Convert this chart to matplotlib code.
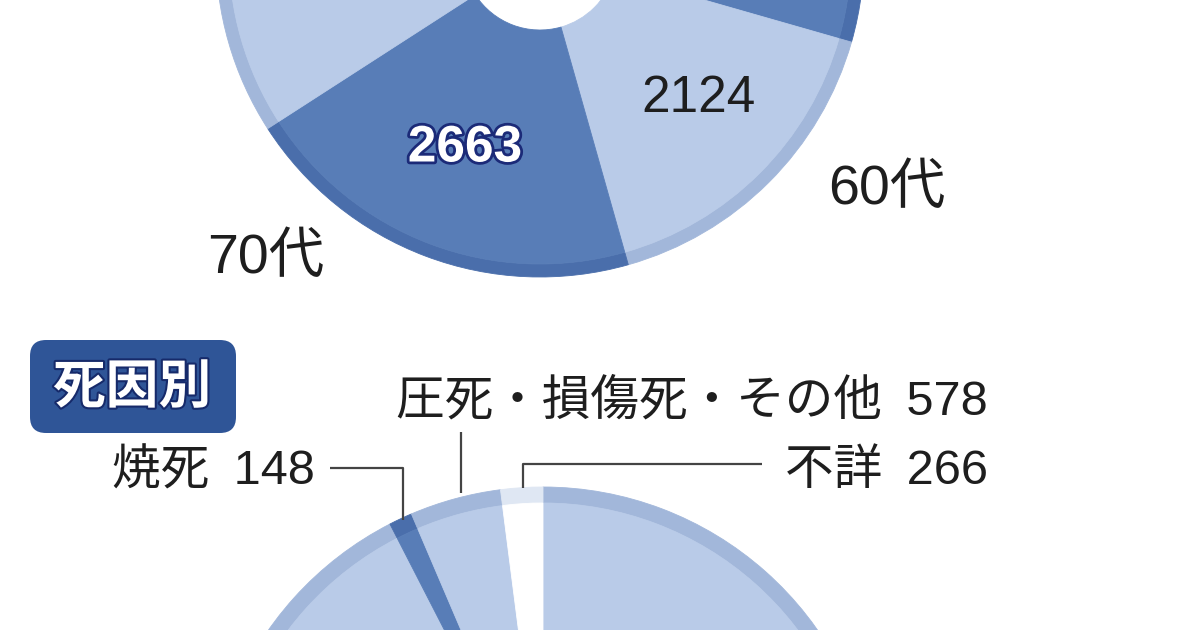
"""Deaths by age group and by cause of death, two cropped donut charts."""

import matplotlib

matplotlib.use("Agg")
import matplotlib.pyplot as plt
import matplotlib.patheffects as pe
from matplotlib.patches import FancyBboxPatch

# latin digits from Liberation Sans, kana/kanji fall through to Noto CJK
plt.rcParams["font.family"] = ["Liberation Sans", "Noto Sans CJK JP", "DejaVu Sans"]

# age groups, clockwise from 12 o'clock
age_labels = ["0~9歳", "10代", "20代", "30代", "40代", "50代", "60代", "70代", "80歳以上", "不明"]
age_values = [367, 311, 378, 622, 866, 1322, 2124, 2663, 2454, 2027]
age_shade = ["light", "dark", "light", "dark", "light", "dark", "light", "dark", "light", "dark"]

# causes of death, clockwise from 12 o'clock
cause_labels = ["溺死", "焼死", "圧死・損傷死・その他", "不詳"]
cause_values = [12143, 148, 578, 266]
cause_shade = ["light", "dark", "light", "white"]

BODY = {"light": "#b9cbe8", "dark": "#587db7", "white": "#ffffff"}
RIM = {"light": "#a2b7da", "dark": "#4a6eab", "white": "#dfe7f3"}
INK = "#1e1e1e"
BADGE = "#2f5597"

W, H = 1200, 630


def Y(y):
    # image rows (top down) -> axis coords (bottom up)
    return H - y


def donut(ax, values, shades, center, radius, hole, rim):
    for colors, r, width in (
        ([RIM[s] for s in shades], radius, rim),
        ([BODY[s] for s in shades], radius - rim, radius - rim - hole),
    ):
        wedges, _ = ax.pie(
            values,
            colors=colors,
            center=center,
            radius=r,
            startangle=90,
            counterclock=False,
            wedgeprops=dict(width=width, linewidth=0.6),
        )
        for wedge in wedges:
            wedge.set_edgecolor(wedge.get_facecolor())


fig = plt.figure(figsize=(W / 100, H / 100), dpi=100)
ax = fig.add_axes([0, 0, 1, 1])

donut(ax, age_values, age_shade, (540, Y(-47)), 324, 77, 13)
donut(ax, cause_values, cause_shade, (543, Y(822)), 335, 80, 16)

ax.set_aspect("auto")
ax.set_xlim(0, W)
ax.set_ylim(0, H)
ax.axis("off")

ax.text(465, Y(148), str(age_values[7]), fontsize=37, fontweight="bold", color="white",
        ha="center", va="center",
        path_effects=[pe.withStroke(linewidth=4, foreground="#1b2a78")])
ax.text(698, Y(98), str(age_values[6]), fontsize=37, color=INK, ha="center", va="center")
big = dict(fontsize=40, color=INK, ha="center", va="center")
ax.text(887, Y(190), age_labels[6], **big)
ax.text(266, Y(259), age_labels[7], **big)

badge = FancyBboxPatch((36, Y(427)), 194, 81, boxstyle="round,pad=6,rounding_size=16",
                       facecolor=BADGE, edgecolor="none")
ax.add_patch(badge)
ax.text(132, Y(389), "死因別", fontsize=38, fontweight="bold", color="white",
        ha="center", va="center",
        path_effects=[pe.withStroke(linewidth=3, foreground="#162a6a")])

gap = "\u2002"
label = dict(fontsize=35, color=INK, ha="right", va="center")
ax.text(988, Y(402), f"{cause_labels[2]}{gap}{cause_values[2]}", **label)
ax.text(315, Y(472), f"{cause_labels[1]}{gap}{cause_values[1]}", **label)
ax.text(988, Y(472), f"{cause_labels[3]}{gap}{cause_values[3]}", **label)

lead = dict(color="#444444", linewidth=1.6, solid_capstyle="butt")
ax.plot([330, 403, 403], [Y(468), Y(468), Y(520)], **lead)
ax.plot([461, 461], [Y(432), Y(493)], **lead)
ax.plot([762, 523, 523], [Y(464), Y(464), Y(488)], **lead)

fig.savefig("out.png", dpi=100, facecolor="white")
